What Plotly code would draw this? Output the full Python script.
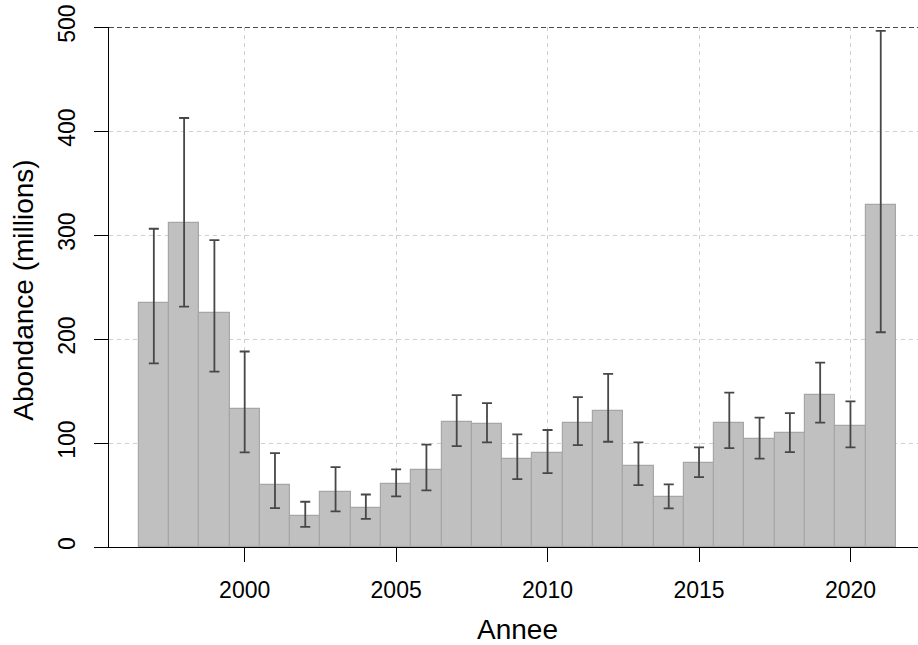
import plotly.graph_objects as go

years = list(range(1997, 2022))
abundance = [235, 312, 225, 133, 60, 30, 52.5, 37.7, 60.8, 74, 120, 118.6, 85, 90,
             119.5, 130.7, 78, 48, 80.7, 119.5, 103.5, 109.3, 146, 116.7, 328.5]
upper = [306, 412.5, 295, 188, 90.3, 43.5, 76.8, 50.5, 74.6, 98.4, 146, 138.4, 108.3,
         112.5, 144.2, 166.4, 100.6, 60.2, 95.8, 148.4, 124.4, 128.8, 177.3, 140.1, 496.2]
lower = [176.6, 231.2, 168.6, 91, 37.4, 19.4, 34.2, 27.1, 48.6, 54.4, 97, 100.6, 65.3,
         71, 98, 101.2, 59.5, 37.1, 67.2, 95.1, 84.9, 91.3, 119.5, 95.8, 206.5]
x_ticks = [2000, 2005, 2010, 2015, 2020]
y_ticks = [0, 100, 200, 300, 400, 500]

err_plus = [u - v for u, v in zip(upper, abundance)]
err_minus = [v - l for v, l in zip(abundance, lower)]

FONT = "Liberation Sans, Arial, Helvetica, sans-serif"

fig = go.Figure()
fig.add_trace(go.Bar(
    x=years, y=abundance, width=1,
    marker=dict(color="#c0c0c0", line=dict(color="#a6a6a6", width=1.2)),
    error_y=dict(type="data", symmetric=False, array=err_plus, arrayminus=err_minus,
                 color="#474747", thickness=1.8, width=5),
    showlegend=False,
))

W, H = 918, 645
L, R, T, B = 109.3, 0, 27.2, 98.4
pw = W - L - R
ph = H - T - B

fig.update_layout(
    width=W, height=H,
    margin=dict(l=L, r=R, t=T, b=B, pad=0),
    paper_bgcolor="white", plot_bgcolor="white",
    bargap=0,
    font=dict(family=FONT, size=23, color="#000000"),
    xaxis=dict(
        range=[1995.52, 2022.23], tickmode="array", tickvals=x_ticks,
        ticktext=[str(t) for t in x_ticks],
        ticks="outside", ticklen=14, tickwidth=1.3, tickcolor="#000",
        showline=True, linecolor="#000", linewidth=1.3,
        showgrid=True, gridcolor="#cfcfcf", gridwidth=1, griddash="4px,4px",
        zeroline=False, tickfont=dict(size=23, family=FONT, color="#000"),
        ticklabelstandoff=8,
    ),
    yaxis=dict(
        range=[0, 500], tickmode="array", tickvals=y_ticks,
        ticktext=[str(t) for t in y_ticks],
        ticks="outside", ticklen=14, tickwidth=1.3, tickcolor="#000",
        showline=True, linecolor="#000", linewidth=1.3,
        showgrid=True, gridcolor="#cfcfcf", gridwidth=1, griddash="4px,4px",
        zeroline=False, tickangle=-90, tickfont=dict(size=23, family=FONT, color="#000"),
        ticklabelstandoff=10,
    ),
    shapes=[dict(type="line", xref="paper", yref="y", x0=0, x1=1, y0=500, y1=500,
                 line=dict(color="#111111", width=1.4, dash="5px,3px"), layer="above")],
    annotations=[
        dict(text="Annee", xref="paper", yref="paper",
             x=(517.5 - L) / pw, y=(H - B - 629) / ph,
             xanchor="center", yanchor="middle", showarrow=False,
             font=dict(size=28, family=FONT, color="#000")),
        dict(text="Abondance (millions)", xref="paper", yref="paper",
             x=(23 - L) / pw, y=(H - B - 290) / ph, textangle=-90,
             xanchor="center", yanchor="middle", showarrow=False,
             font=dict(size=28, family=FONT, color="#000")),
    ],
)

fig.write_html("out.html", config={"displayModeBar": False},
               post_script="document.body.style.margin='0';document.body.style.overflow='hidden';")
